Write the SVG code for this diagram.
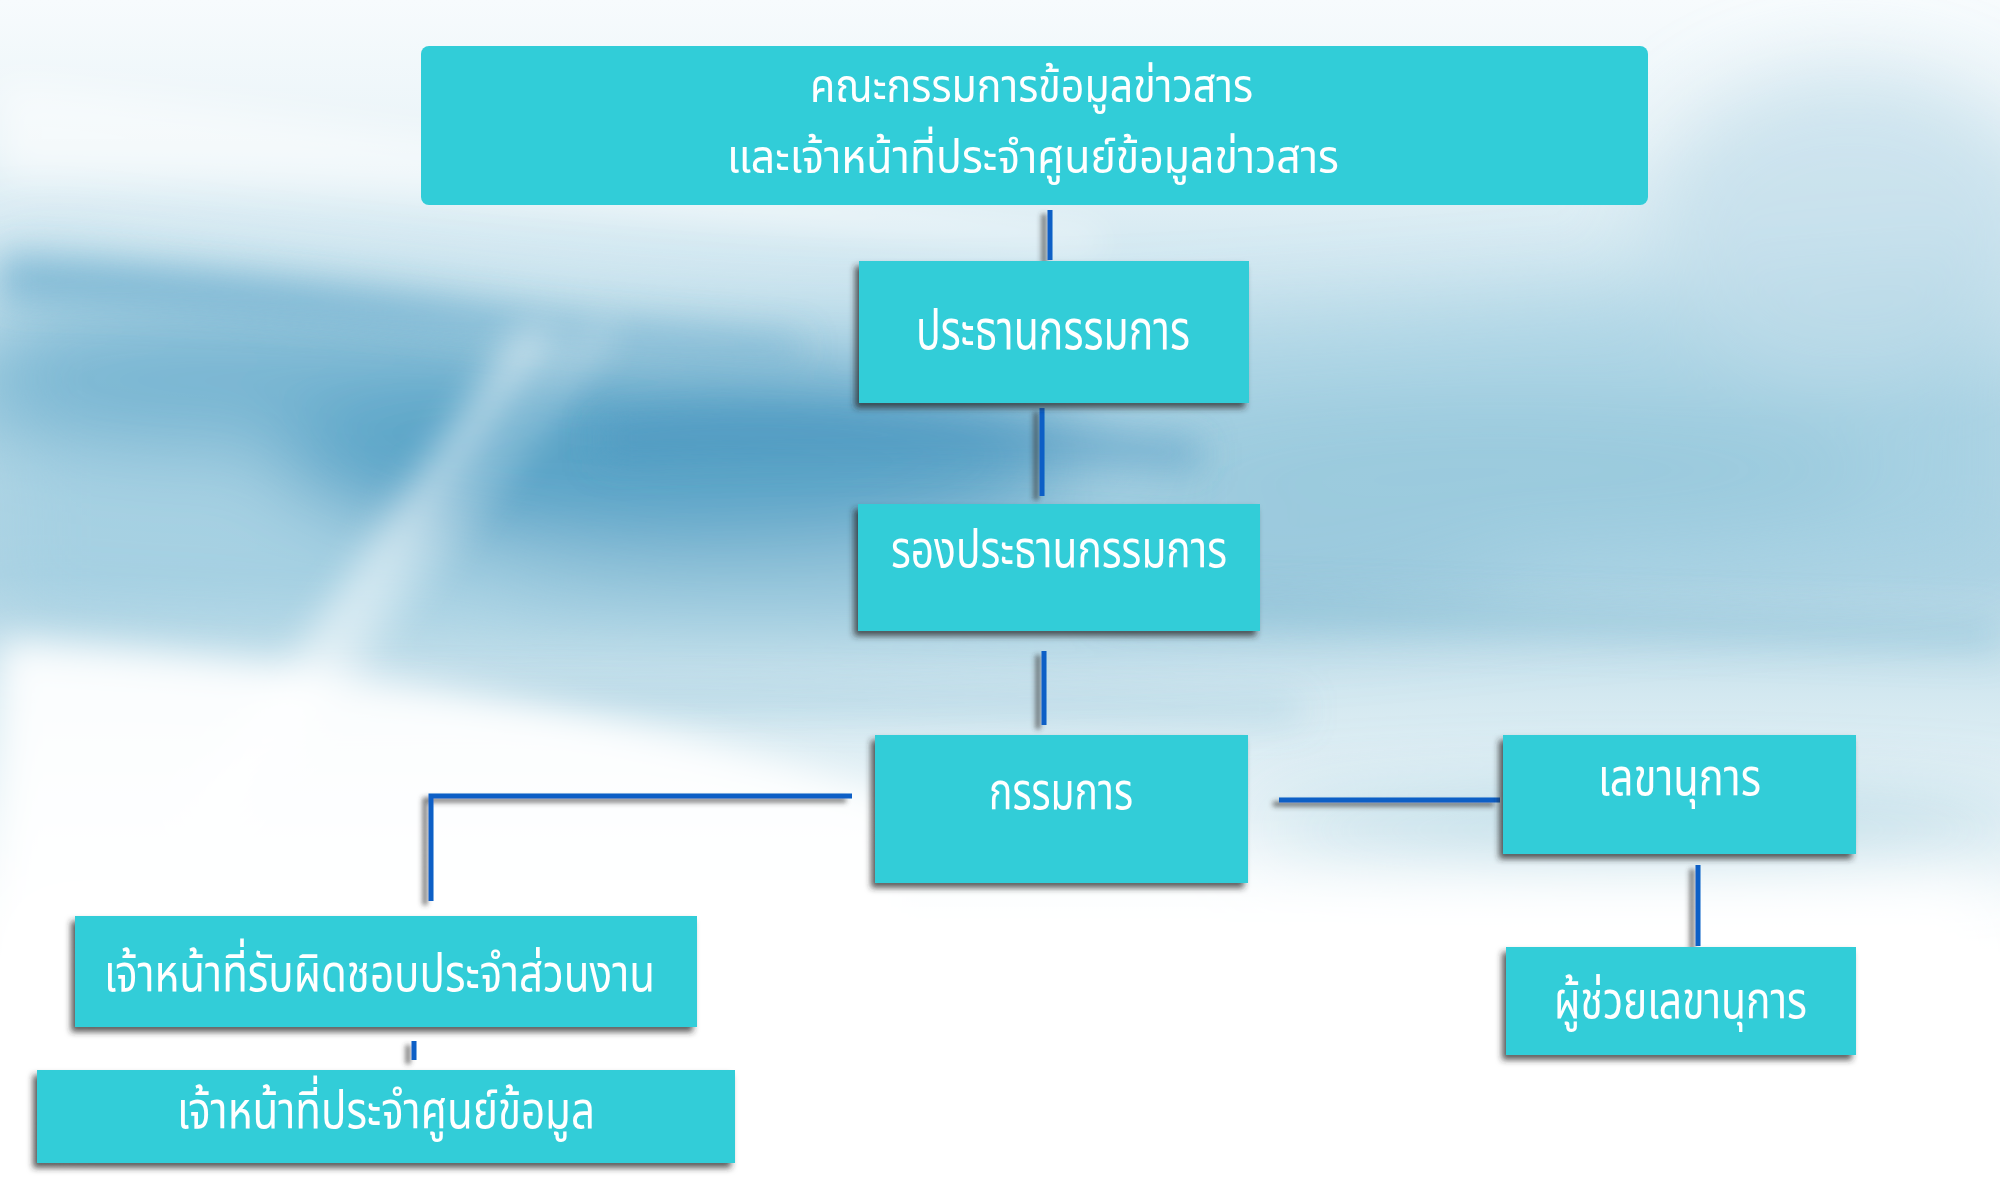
<svg xmlns="http://www.w3.org/2000/svg" width="2000" height="1197" viewBox="0 0 2000 1197">
<defs>
<style>
.box{fill:#31cdd8;}
.lbl{fill:#ffffff;font-family:"Noto Sans Thai","Noto Sans","DejaVu Sans",sans-serif;font-size:52px;}
.top{font-size:46px;}
.con{stroke:#0b5fc6;stroke-width:5;fill:none;stroke-linecap:butt;}
</style>
<linearGradient id="bg" x1="0" y1="0" x2="0" y2="1">
<stop offset="0" stop-color="#f7fbfd"/>
<stop offset="0.12" stop-color="#eaf4f8"/>
<stop offset="0.22" stop-color="#d2e8f1"/>
<stop offset="0.35" stop-color="#b3d7e6"/>
<stop offset="0.48" stop-color="#b0d5e5"/>
<stop offset="0.58" stop-color="#d3e8f0"/>
<stop offset="0.7" stop-color="#eff7fa"/>
<stop offset="0.8" stop-color="#ffffff"/>
<stop offset="1" stop-color="#ffffff"/>
</linearGradient>
<filter id="blur40" x="-50%" y="-50%" width="200%" height="200%"><feGaussianBlur stdDeviation="40"/></filter>
<filter id="blur20" x="-50%" y="-50%" width="200%" height="200%"><feGaussianBlur stdDeviation="18"/></filter>
<filter id="sh" x="-10%" y="-10%" width="120%" height="130%"><feDropShadow dx="-4" dy="5" stdDeviation="3" flood-color="#2a2a2a" flood-opacity="0.75"/></filter>
<filter id="lsh" x="-50%" y="-50%" width="200%" height="200%"><feDropShadow dx="-6" dy="4" stdDeviation="2.5" flood-color="#3a3a3a" flood-opacity="0.7"/></filter>
</defs>

<g id="background">
<rect x="0" y="0" width="2000" height="1197" fill="url(#bg)"/>
<g filter="url(#blur40)">
<path d="M0 250 C300 280 600 330 900 330 C1200 330 1500 300 2000 260 L2000 560 C1600 600 1200 620 800 640 C500 650 200 640 0 620 Z" fill="#9ccbdf" opacity="0.5"/>
<ellipse cx="680" cy="455" rx="400" ry="90" fill="#4c9bc2" opacity="0.85"/>
<ellipse cx="250" cy="380" rx="300" ry="70" fill="#5ea7c9" opacity="0.65"/>
<ellipse cx="1500" cy="470" rx="380" ry="60" fill="#8cc1d7" opacity="0.45"/>
<ellipse cx="1000" cy="580" rx="520" ry="45" fill="#8dc0d7" opacity="0.55"/>
<ellipse cx="1650" cy="830" rx="400" ry="26" fill="#8ec1d6" opacity="0.75"/>
<ellipse cx="1850" cy="220" rx="200" ry="150" fill="#c0dde9" opacity="0.7"/>
</g>
<g filter="url(#blur20)">
<path d="M0 255 C250 270 500 320 800 340 L800 355 C500 340 250 300 0 300 Z" fill="#5aa4c8" opacity="0.6"/>
<path d="M600 420 C800 400 1000 420 1200 440 L1200 470 C1000 455 800 450 600 460 Z" fill="#4a96bf" opacity="0.55"/>
<path d="M1100 590 C1400 600 1700 610 2000 620 L2000 650 C1700 640 1400 630 1100 620 Z" fill="#7ab6d0" opacity="0.4"/>
<path d="M300 690 C600 680 900 690 1300 700 L1300 720 C900 712 600 705 300 710 Z" fill="#8dc0d7" opacity="0.45"/>
</g>
<g filter="url(#blur20)" fill="#ffffff">
<path d="M180 820 L520 330 L560 330 L230 820 Z" opacity="0.55"/>
<path d="M260 760 L600 320 L620 320 L290 760 Z" opacity="0.4"/>
<path d="M0 640 C300 660 600 700 900 800 L900 1197 L0 1197 Z" opacity="0.9"/>
<path d="M0 80 C400 120 800 200 1100 230 L1100 250 C800 230 400 180 0 180 Z" opacity="0.5"/>
</g>
<rect x="0" y="880" width="2000" height="317" fill="#ffffff" filter="url(#blur40)"/>
</g>

<g id="connectors" filter="url(#lsh)">
<line class="con" x1="1050" y1="210" x2="1050" y2="260"/>
<line class="con" x1="1042" y1="408" x2="1042" y2="496"/>
<line class="con" x1="1044" y1="651" x2="1044" y2="725"/>
<polyline class="con" points="852,796 431,796 431,901"/>
<line class="con" x1="414" y1="1041" x2="414" y2="1060"/>
<line class="con" x1="1279" y1="800" x2="1500" y2="800"/>
<line class="con" x1="1698" y1="865" x2="1698" y2="946"/>
</g>

<g id="node-committee">
<rect class="box" x="421" y="46" width="1227" height="159" rx="8"/>
<text class="lbl top" x="810" y="102" textLength="443" lengthAdjust="spacingAndGlyphs">คณะกรรมการข้อมูลข่าวสาร</text>
<text class="lbl top" x="727" y="173" textLength="612" lengthAdjust="spacingAndGlyphs">และเจ้าหน้าที่ประจำศูนย์ข้อมูลข่าวสาร</text>
</g>

<g id="node-chairman">
<rect class="box" x="859" y="261" width="390" height="142" filter="url(#sh)"/>
<text class="lbl" x="916" y="349" textLength="274" lengthAdjust="spacingAndGlyphs" style="font-size:56px">ประธานกรรมการ</text>
</g>

<g id="node-vice-chairman">
<rect class="box" x="858" y="504" width="402" height="127" filter="url(#sh)"/>
<text class="lbl" x="891" y="567" textLength="336" lengthAdjust="spacingAndGlyphs">รองประธานกรรมการ</text>
</g>

<g id="node-member">
<rect class="box" x="875" y="735" width="373" height="148" filter="url(#sh)"/>
<text class="lbl" x="989" y="809" textLength="144" lengthAdjust="spacingAndGlyphs">กรรมการ</text>
</g>

<g id="node-secretary">
<rect class="box" x="1503" y="735" width="353" height="119" filter="url(#sh)"/>
<text class="lbl" x="1598" y="795" textLength="163" lengthAdjust="spacingAndGlyphs">เลขานุการ</text>
</g>

<g id="node-assistant-secretary">
<rect class="box" x="1506" y="947" width="350" height="108" filter="url(#sh)"/>
<text class="lbl" x="1554" y="1018" textLength="253" lengthAdjust="spacingAndGlyphs">ผู้ช่วยเลขานุการ</text>
</g>

<g id="node-unit-officer">
<rect class="box" x="75" y="916" width="622" height="111" filter="url(#sh)"/>
<text class="lbl" x="104" y="991" textLength="551" lengthAdjust="spacingAndGlyphs">เจ้าหน้าที่รับผิดชอบประจำส่วนงาน</text>
</g>

<g id="node-center-officer">
<rect class="box" x="37" y="1070" width="698" height="93" filter="url(#sh)"/>
<text class="lbl" x="177" y="1128" textLength="418" lengthAdjust="spacingAndGlyphs">เจ้าหน้าที่ประจำศูนย์ข้อมูล</text>
</g>
</svg>
